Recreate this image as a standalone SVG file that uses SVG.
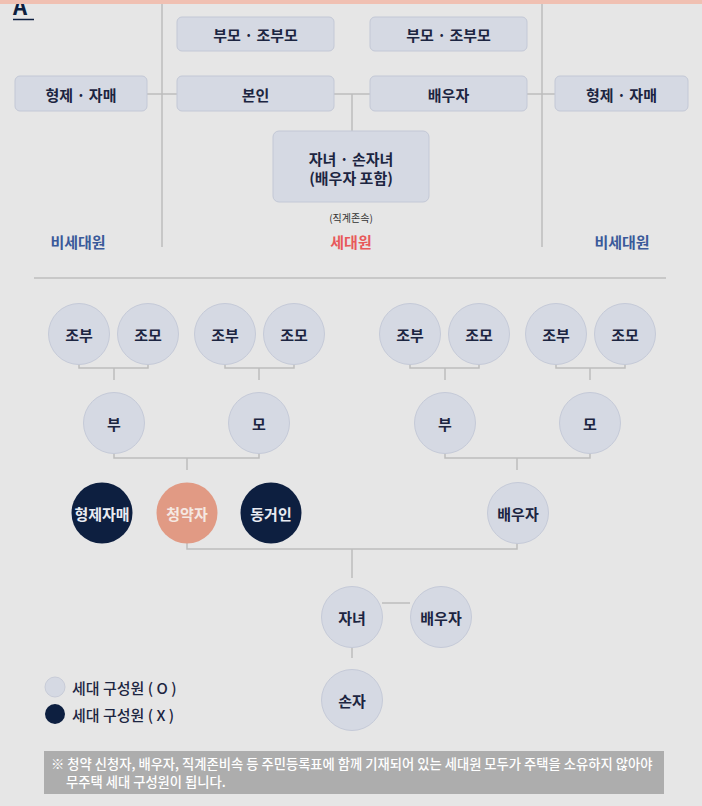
<svg xmlns="http://www.w3.org/2000/svg" width="702" height="806" viewBox="0 0 702 806">
<style>
text{font-family:"Noto Sans CJK KR","Noto Sans",sans-serif;}
.bx{fill:#d5d9e3;stroke:#c3c8d6;stroke-width:1;}
.c{fill:#d5d9e3;stroke:#c5cad8;stroke-width:1;}
.d{fill:#0d1f40;}
.p{fill:#e19a84;}
.t{font-size:15px;font-weight:bold;fill:#1c2541;text-anchor:middle;dominant-baseline:central;}
.tw{font-size:15px;font-weight:bold;fill:#e9ebf2;text-anchor:middle;dominant-baseline:central;}
.ln{stroke:#bdbdbd;stroke-width:1.5;fill:none;}
.lg{font-size:15px;font-weight:500;fill:#1c2541;dominant-baseline:central;}
.nt{font-size:13.3px;font-weight:500;fill:#ffffff;}
</style>
<rect x="0" y="0" width="702" height="806" fill="#e6e6e6"/>
<text x="13" y="15" font-size="22" font-weight="bold" fill="#0d1f40" font-family="Liberation Sans, sans-serif">A</text>
<line x1="13" y1="19.5" x2="34" y2="19.5" stroke="#0d1f40" stroke-width="1.5"/>
<rect x="0" y="0" width="702" height="4" fill="#f0c0b2"/>

<g id="connectors">
<line class="ln" x1="162" y1="4" x2="162" y2="247"/>
<line class="ln" x1="542" y1="4" x2="542" y2="247"/>
<line class="ln" x1="147" y1="94" x2="177" y2="94"/>
<line class="ln" x1="334" y1="94" x2="370" y2="94"/>
<line class="ln" x1="352" y1="94" x2="352" y2="131"/>
<line class="ln" x1="527" y1="94" x2="555" y2="94"/>
<line x1="34" y1="278" x2="666" y2="278" stroke="#c8c8c8" stroke-width="2"/>
<polyline class="ln" points="79,364 79,368 148,368 148,364"/>
<line class="ln" x1="114" y1="368" x2="114" y2="380"/>
<polyline class="ln" points="225,364 225,368 294,368 294,364"/>
<line class="ln" x1="259" y1="368" x2="259" y2="380"/>
<polyline class="ln" points="410,364 410,368 479,368 479,364"/>
<line class="ln" x1="445" y1="368" x2="445" y2="380"/>
<polyline class="ln" points="556,364 556,368 625,368 625,364"/>
<line class="ln" x1="590" y1="368" x2="590" y2="380"/>
<polyline class="ln" points="114,453 114,458 259,458 259,453"/>
<line class="ln" x1="187" y1="458" x2="187" y2="470"/>
<polyline class="ln" points="445,453 445,458 590,458 590,453"/>
<line class="ln" x1="517" y1="458" x2="517" y2="470"/>
<polyline class="ln" points="187,543 187,549 517,549 517,543"/>
<line class="ln" x1="352" y1="549" x2="352" y2="578"/>
<line class="ln" x1="382" y1="603" x2="410" y2="603"/>
<line class="ln" x1="352" y1="647" x2="352" y2="658"/>
</g>

<g id="n-parents-l"><rect class="bx" x="177" y="17" width="157" height="34" rx="5"/><text class="t" x="255.5" y="34">부모 · 조부모</text></g>
<g id="n-parents-r"><rect class="bx" x="370" y="17" width="157" height="34" rx="5"/><text class="t" x="448.5" y="34">부모 · 조부모</text></g>
<g id="n-sib-l"><rect class="bx" x="15" y="76" width="132" height="35" rx="5"/><text class="t" x="81" y="94">형제 · 자매</text></g>
<g id="n-self"><rect class="bx" x="177" y="76" width="157" height="35" rx="5"/><text class="t" x="255.5" y="94">본인</text></g>
<g id="n-spouse"><rect class="bx" x="370" y="76" width="157" height="35" rx="5"/><text class="t" x="448.5" y="94">배우자</text></g>
<g id="n-sib-r"><rect class="bx" x="555" y="76" width="133" height="35" rx="5"/><text class="t" x="621.5" y="94">형제 · 자매</text></g>
<g id="n-children"><rect class="bx" x="273" y="131" width="156" height="71" rx="6"/><text class="t" x="351" y="158">자녀 · 손자녀</text><text class="t" x="351" y="177.5">(배우자 포함)</text></g>
<g id="lbl-top">
<text x="351" y="217" font-size="10" fill="#333" text-anchor="middle" dominant-baseline="central">(직계존속)</text>
<text x="351" y="241" font-size="15" font-weight="bold" fill="#e8595a" text-anchor="middle" dominant-baseline="central">세대원</text>
<text x="78" y="241" font-size="15" font-weight="bold" fill="#3a5a9a" text-anchor="middle" dominant-baseline="central">비세대원</text>
<text x="622" y="241" font-size="15" font-weight="bold" fill="#3a5a9a" text-anchor="middle" dominant-baseline="central">비세대원</text>
</g>

<g id="gf1"><circle class="c" cx="79" cy="334" r="30.5"/><text class="t" x="79" y="334">조부</text></g>
<g id="gm1"><circle class="c" cx="148" cy="334" r="30.5"/><text class="t" x="148" y="334">조모</text></g>
<g id="gf2"><circle class="c" cx="225" cy="334" r="30.5"/><text class="t" x="225" y="334">조부</text></g>
<g id="gm2"><circle class="c" cx="294" cy="334" r="30.5"/><text class="t" x="294" y="334">조모</text></g>
<g id="gf3"><circle class="c" cx="410" cy="334" r="30.5"/><text class="t" x="410" y="334">조부</text></g>
<g id="gm3"><circle class="c" cx="479" cy="334" r="30.5"/><text class="t" x="479" y="334">조모</text></g>
<g id="gf4"><circle class="c" cx="556" cy="334" r="30.5"/><text class="t" x="556" y="334">조부</text></g>
<g id="gm4"><circle class="c" cx="625" cy="334" r="30.5"/><text class="t" x="625" y="334">조모</text></g>
<g id="f1"><circle class="c" cx="114" cy="423" r="30.5"/><text class="t" x="114" y="423">부</text></g>
<g id="m1"><circle class="c" cx="259" cy="423" r="30.5"/><text class="t" x="259" y="423">모</text></g>
<g id="f2"><circle class="c" cx="445" cy="423" r="30.5"/><text class="t" x="445" y="423">부</text></g>
<g id="m2"><circle class="c" cx="590" cy="423" r="30.5"/><text class="t" x="590" y="423">모</text></g>
<g id="sib"><circle class="d" cx="102" cy="513" r="30.5"/><text class="tw" x="102" y="513">형제자매</text></g>
<g id="applicant"><circle class="p" cx="187" cy="513" r="30.5"/><text class="tw" x="187" y="513" style="fill:#f5e8e2">청약자</text></g>
<g id="cohab"><circle class="d" cx="271" cy="513" r="30.5"/><text class="tw" x="271" y="513">동거인</text></g>
<g id="spouse2"><circle class="c" cx="518" cy="513" r="30.5"/><text class="t" x="518" y="513">배우자</text></g>
<g id="child"><circle class="c" cx="352" cy="617" r="30.5"/><text class="t" x="352" y="617">자녀</text></g>
<g id="child-spouse"><circle class="c" cx="441" cy="617" r="30.5"/><text class="t" x="441" y="617">배우자</text></g>
<g id="grandchild"><circle class="c" cx="352" cy="700" r="30.5"/><text class="t" x="352" y="700">손자</text></g>

<g id="legend">
<circle cx="55" cy="687" r="10" fill="#d5d9e3" stroke="#c8ccd8"/>
<text class="lg" x="72" y="687">세대 구성원 ( O )</text>
<circle cx="55" cy="714" r="10" fill="#0d1f40"/>
<text class="lg" x="72" y="714">세대 구성원 ( X )</text>
</g>

<g id="note">
<rect x="44" y="751" width="620" height="43" fill="#adadad"/>
<text class="nt" x="51" y="769">※ 청약 신청자, 배우자, 직계존비속 등 주민등록표에 함께 기재되어 있는 세대원 모두가 주택을 소유하지 않아야</text>
<text class="nt" x="66" y="787">무주택 세대 구성원이 됩니다.</text>
</g>
</svg>
